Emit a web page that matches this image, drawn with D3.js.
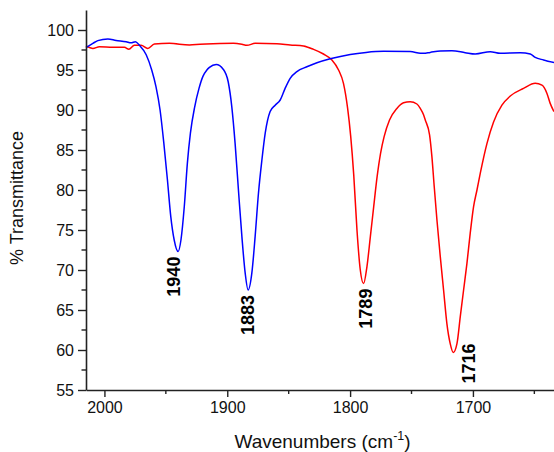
<!DOCTYPE html>
<html>
<head>
<meta charset="utf-8">
<script src="https://cdn.jsdelivr.net/npm/d3@7"></script>
<style>
  html, body { margin: 0; padding: 0; background: #fff; }
  svg { display: block; font-family: "Liberation Sans", Arial, sans-serif; }
</style>
</head>
<body>
<svg id="chart" width="554" height="452"></svg>
<script>
// IR spectra: wavenumber (cm-1) and % transmittance
const blueWavenumbers = [2015, 2009.4, 2005.4, 1997.2, 1990.5, 1982.3, 1978.3, 1974.8, 1971.5, 1966.0,
  1961.5, 1958.0, 1954.7, 1951.6, 1948.7, 1946.0, 1943.2, 1940, 1937.7, 1935.0, 1932.5, 1930.0,
  1926.5, 1923.0, 1919.9, 1916.6, 1914.5, 1909.0, 1903.3, 1899.2, 1896.3, 1893.6, 1890.9, 1888.1,
  1885.4, 1883, 1880.0, 1877.3, 1874.6, 1871.8, 1869.1, 1865.1, 1861.0, 1856.9, 1852.9, 1848.8,
  1843.3, 1835.2, 1827.0, 1816.2, 1799.9, 1787, 1772.8, 1751.1, 1742.9, 1740.2, 1734.8, 1726.6,
  1717.1, 1706.3, 1698.1, 1685.9, 1677.8, 1661.5, 1653.3, 1649.3, 1642.5, 1634];
const blueTransmittance = [97.8, 98.33, 98.67, 98.88, 98.7, 98.54, 98.4, 98.54, 98.1, 96.9,
  95.0, 92.9, 90.0, 85.8, 81.25, 76.7, 73.75, 72.3, 73.75, 77.9, 83.3, 87.1,
  90.4, 92.7, 94.17, 95.0, 95.33, 95.7, 95.1, 93.5, 90.4, 85.8, 80.0, 74.2,
  69.6, 67.5, 69.6, 74.2, 79.6, 83.75, 87.1, 89.8, 90.6, 91.25, 92.7, 93.96,
  94.8, 95.4, 95.9, 96.4, 96.95, 97.2, 97.33, 97.3, 97.1, 97.08, 97.2, 97.38,
  97.42, 97.17, 97.0, 97.29, 97.08, 97.17, 97.0, 96.58, 96.25, 95.92];

const redWavenumbers = [2015, 2009.4, 2004.1, 1993.2, 1983.7, 1980.1, 1975.6, 1970.1, 1964.7, 1959.3,
  1947.1, 1930.8, 1922.1, 1917.2, 1894.9, 1888.1, 1884, 1877.3, 1859.6, 1848.8, 1837.9, 1829.8,
  1821.7, 1814.8, 1809.4, 1805.4, 1802.0, 1799.5, 1797.0, 1794.4, 1791.7, 1789, 1786.3, 1783.5,
  1780.8, 1778.0, 1775.2, 1772.3, 1767.9, 1761.9, 1756.5, 1751.1, 1745.6, 1742.9, 1740.2, 1738.8,
  1735.3, 1733.4, 1731.5, 1729.3, 1726.6, 1723.9, 1721.2, 1718.5, 1716, 1713.0, 1710.3, 1707.6,
  1704.9, 1702.2, 1699.5, 1696.7, 1694.0, 1688.6, 1683.2, 1676.4, 1669.6, 1658.8, 1649.3, 1643.8,
  1639.8, 1637.1, 1634];
const redTransmittance = [98.0, 97.7, 97.9, 97.83, 97.83, 97.6, 98.1, 98.1, 97.7, 98.25,
  98.33, 98.13, 98.21, 98.25, 98.33, 98.21, 98.08, 98.33, 98.29, 98.13, 98.0, 97.58,
  97.0, 96.25, 95.0, 93.33, 90.2, 86.7, 81.8, 75.0, 70.0, 68.3, 70.4, 74.17,
  77.9, 81.67, 84.58, 86.67, 88.75, 90.2, 90.9, 91.04, 90.75, 90.2, 89.4, 88.75,
  86.9, 84.17, 80.4, 76.25, 71.7, 67.5, 63.3, 60.8, 59.7, 60.8, 64.17, 67.5,
  70.8, 74.6, 77.9, 80.0, 82.1, 85.8, 88.5, 90.6, 91.75, 92.7, 93.33, 93.1,
  92.1, 90.83, 89.8];

// Peak annotations
const peakLabels = ["1940", "1883", "1789", "1716"];
const peakWavenumbers = [1940, 1883, 1789, 1716];
const peakTransmittance = [72.3, 67.5, 68.3, 59.7];

// Axis ticks
const xMajorTicks = [2000, 1900, 1800, 1700];
const xMinorTicks = [1950, 1850, 1750, 1650];
const yMajorTicks = [55, 60, 65, 70, 75, 80, 85, 90, 95, 100];
const yMinorTicks = [57.5, 62.5, 67.5, 72.5, 77.5, 82.5, 87.5, 92.5, 97.5];

const svg = d3.select("#chart");
const margin = { left: 86, right: 0, top: 10, bottom: 62 };
const W = 554, H = 452;

const x = d3.scaleLinear().domain([2015, 1634]).range([margin.left, W - margin.right]);
const y = d3.scaleLinear().domain([55, 102.5]).range([H - margin.bottom, margin.top]);

const axisColor = "#222";
const fontSize = 16;

// Spectra
const line = d3.line()
  .x(d => x(d[0]))
  .y(d => y(d[1]))
  .curve(d3.curveMonotoneX);

const blue = blueWavenumbers.map((w, i) => [w, blueTransmittance[i]]);
const red = redWavenumbers.map((w, i) => [w, redTransmittance[i]]);

svg.append("path").datum(red)
  .attr("fill", "none").attr("stroke", "#ff0000").attr("stroke-width", 1.5)
  .attr("d", line);
svg.append("path").datum(blue)
  .attr("fill", "none").attr("stroke", "#0000ff").attr("stroke-width", 1.5)
  .attr("d", line);

// X axis
const xAxis = svg.append("g").attr("transform", `translate(0,${H - margin.bottom})`)
  .call(d3.axisBottom(x).tickValues(xMajorTicks).tickSize(7).tickSizeOuter(0).tickPadding(5).tickFormat(d3.format("d")));
xAxis.append("g").selectAll("line").data(xMinorTicks).join("line")
  .attr("x1", d => x(d)).attr("x2", d => x(d)).attr("y1", 0).attr("y2", 4);

// Y axis
const yAxis = svg.append("g").attr("transform", `translate(${margin.left},0)`)
  .call(d3.axisLeft(y).tickValues(yMajorTicks).tickSize(8).tickSizeOuter(0).tickPadding(4).tickFormat(d3.format("d")));
yAxis.append("g").selectAll("line").data(yMinorTicks).join("line")
  .attr("x1", 0).attr("x2", -4.5).attr("y1", d => y(d)).attr("y2", d => y(d));

[xAxis, yAxis].forEach(g => {
  g.selectAll("path.domain").attr("stroke", axisColor).attr("stroke-width", 1.6);
  g.selectAll("line").attr("stroke", axisColor).attr("stroke-width", 1.4);
  g.selectAll("text").attr("fill", "#111").style("font-size", fontSize + "px")
    .style("font-family", '"Liberation Sans", Arial, sans-serif');
});

// Axis titles
const xTitle = svg.append("text")
  .attr("x", 322.5).attr("y", 448)
  .attr("text-anchor", "middle")
  .attr("fill", "#111")
  .style("font-size", "19px");
xTitle.append("tspan").text("Wavenumbers (cm");
xTitle.append("tspan").text("-1").attr("dy", -8).style("font-size", "12.5px");
xTitle.append("tspan").text(")").attr("dy", 8);

svg.append("text")
  .attr("transform", `translate(23,198) rotate(-90)`)
  .attr("text-anchor", "middle")
  .attr("fill", "#111")
  .style("font-size", "18px")
  .text("% Transmittance");

// Peak labels, rotated, just below each minimum
const labelShift = [ -4, 0, 2, 15 ];
const labelGap = [ 5, 5, 5, -9 ];
svg.append("g").selectAll("text").data(peakLabels).join("text")
  .attr("transform", (d, i) =>
    `translate(${x(peakWavenumbers[i]) + labelShift[i]},${y(peakTransmittance[i]) + labelGap[i]}) rotate(-90)`)
  .attr("text-anchor", "end")
  .attr("dy", "0.35em")
  .attr("fill", "#000")
  .style("font-size", "18px")
  .style("font-weight", "bold")
  .text(d => d);
</script>
</body>
</html>
